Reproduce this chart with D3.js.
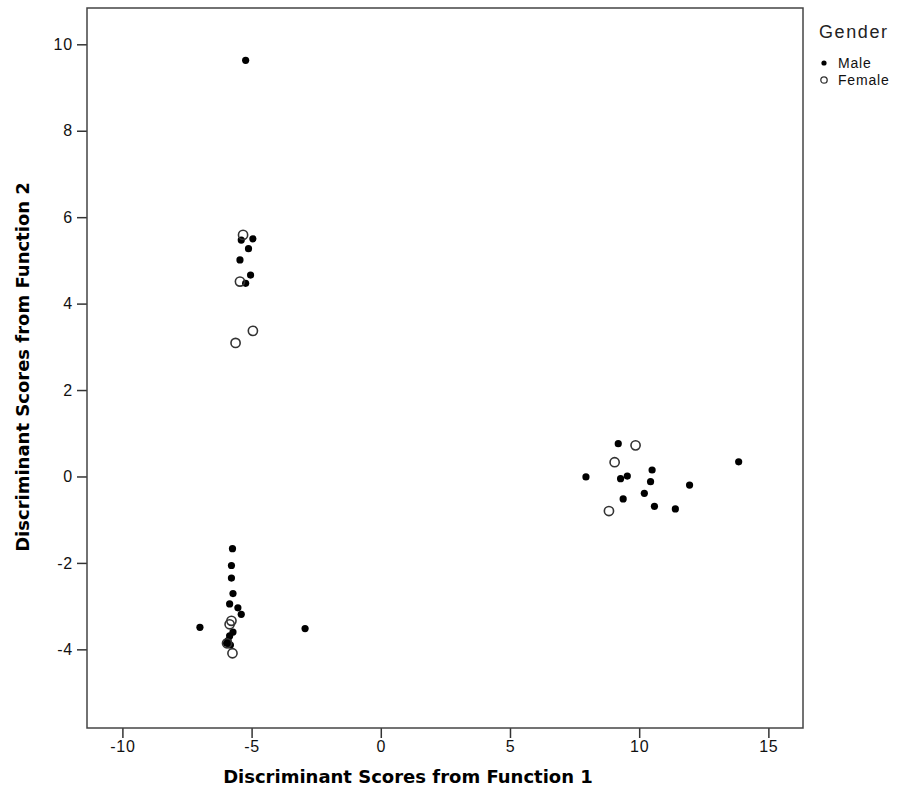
<!DOCTYPE html>
<html>
<head>
<meta charset="utf-8">
<script src="https://cdn.jsdelivr.net/npm/d3@7"></script>
<style>
  body { margin: 0; background: #fff; }
  svg { display: block; }
</style>
</head>
<body>
<div class="chart"></div>
<script>
var width = 901,
    height = 805;

// scores
let maleX = [-5.23, -5.40, -4.95, -5.12, -5.45, -5.04, -5.23,
    -5.74, -5.78, -5.78, -5.72, -5.85, -5.53, -5.40, -7.0, -2.93, -5.72, -5.85, -5.91, -5.97, -5.82,
    9.19, 7.94, 9.28, 9.54, 10.5, 10.44, 10.2, 9.38, 10.59, 11.4, 11.95, 13.85];
let maleY = [9.63, 5.47, 5.50, 5.27, 5.01, 4.66, 4.47,
    -1.67, -2.06, -2.35, -2.71, -2.95, -3.04, -3.19, -3.49, -3.52, -3.60, -3.69, -3.80, -3.86, -3.90,
    0.76, -0.01, -0.05, 0.01, 0.15, -0.12, -0.39, -0.52, -0.69, -0.75, -0.20, 0.34];

let femaleX = [-5.33, -5.45, -4.95, -5.62, -5.78, -5.85, -5.95, -5.74, 9.86, 9.05, 8.83];
let femaleY = [5.59, 4.51, 3.37, 3.09, -3.34, -3.42, -3.86, -4.09, 0.72, 0.33, -0.80];

let xTicks = [-10, -5, 0, 5, 10, 15];
let yTicks = [-4, -2, 0, 2, 4, 6, 8, 10];
let groups = ["Male", "Female"];

let plotLeft = 87, plotRight = 803, plotTop = 8, plotBottom = 728;

let x = d3.scaleLinear().domain([-11.37, 16.34]).range([plotLeft, plotRight]);
let y = d3.scaleLinear().domain([-5.82, 10.84]).range([plotBottom, plotTop]);

let svg = d3.select(".chart")
    .append("svg")
    .attr("width", width)
    .attr("height", height);

let font = "'Liberation Sans', Arial, sans-serif";
let fmt = d => String(d);   // plain hyphen minus, like the original

// axes
let xAxis = svg.append("g")
    .attr("transform", `translate(0, ${plotBottom})`)
    .call(d3.axisBottom(x).tickValues(xTicks).tickFormat(fmt).tickSize(10).tickPadding(3).tickSizeOuter(0));
let yAxis = svg.append("g")
    .attr("transform", `translate(${plotLeft}, 0)`)
    .call(d3.axisLeft(y).tickValues(yTicks).tickFormat(fmt).tickSize(10).tickPadding(4).tickSizeOuter(0));

[xAxis, yAxis].forEach(function(a){
    a.select(".domain").remove();
    a.selectAll("line").attr("stroke", "#333").attr("stroke-width", 1.5);
    a.selectAll("text")
        .style("font-family", font)
        .style("font-size", "16px")
        .style("letter-spacing", "0.8px")
        .attr("fill", "#111");
});

// frame
svg.append("rect")
    .attr("x", plotLeft)
    .attr("y", plotTop)
    .attr("width", plotRight - plotLeft)
    .attr("height", plotBottom - plotTop)
    .attr("fill", "none")
    .attr("stroke", "#444")
    .attr("stroke-width", 1.5);

// points
let males = maleX.map(function(d, i){ return [d, maleY[i]]; });
let females = femaleX.map(function(d, i){ return [d, femaleY[i]]; });

svg.append("g")
    .selectAll("circle")
    .data(males)
    .join("circle")
    .attr("cx", d => x(d[0]))
    .attr("cy", d => y(d[1]))
    .attr("r", 3.6)
    .attr("fill", "#000");

svg.append("g")
    .selectAll("circle")
    .data(females)
    .join("circle")
    .attr("cx", d => x(d[0]))
    .attr("cy", d => y(d[1]))
    .attr("r", 4.6)
    .attr("fill", "none")
    .attr("stroke", "#333")
    .attr("stroke-width", 1.6);

// axis titles
svg.append("text")
    .attr("x", 408)
    .attr("y", 783)
    .attr("text-anchor", "middle")
    .style("font-family", "'DejaVu Sans', Verdana, sans-serif")
    .style("font-weight", "bold")
    .style("font-size", "18px")
    .text("Discriminant Scores from Function 1");

svg.append("text")
    .attr("transform", "translate(29, 367) rotate(-90)")
    .attr("text-anchor", "middle")
    .style("font-family", "'DejaVu Sans', Verdana, sans-serif")
    .style("font-weight", "bold")
    .style("font-size", "18px")
    .text("Discriminant Scores from Function 2");

// legend
let legend = svg.append("g").attr("transform", "translate(819, 0)");
legend.append("text")
    .attr("x", 0)
    .attr("y", 38)
    .style("font-family", font)
    .style("font-size", "18px")
    .style("letter-spacing", "1.6px")
    .attr("fill", "#222")
    .text("Gender");

let items = legend.selectAll(".item")
    .data(groups)
    .join("g")
    .attr("class", "item")
    .attr("transform", (d, i) => `translate(0, ${63 + i * 17})`);

items.append("circle")
    .attr("cx", 5)
    .attr("cy", 0)
    .attr("r", d => d == "Male" ? 2.6 : 3.2)
    .attr("fill", d => d == "Male" ? "#000" : "none")
    .attr("stroke", d => d == "Male" ? "none" : "#333")
    .attr("stroke-width", 1.3);

items.append("text")
    .attr("x", 19)
    .attr("y", 5)
    .style("font-family", font)
    .style("font-size", "14px")
    .style("letter-spacing", "0.8px")
    .attr("fill", "#111")
    .text(d => d);
</script>
</body>
</html>
